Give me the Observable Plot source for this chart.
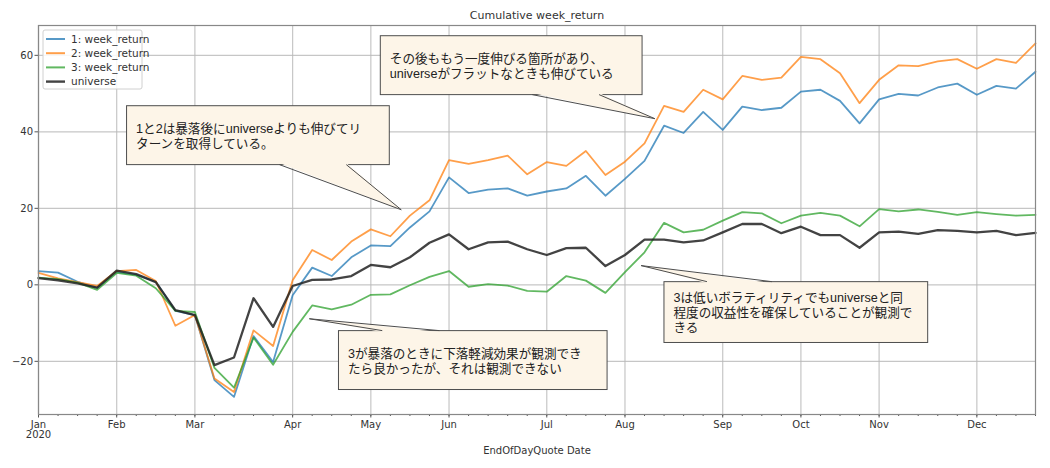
<!DOCTYPE html>
<html><head><meta charset="utf-8">
<script src="https://cdn.jsdelivr.net/npm/d3@7"></script>
<script src="https://cdn.jsdelivr.net/npm/@observablehq/plot@0.6"></script>
<style>html,body{margin:0;padding:0;background:#fff;} #chart svg{display:block;}</style>
</head><body><div id="chart"></div>
<script>
// ---- data ----
const titleText = "Cumulative week_return";
const xLabelText = "EndOfDayQuote Date";
const seriesNames = ["1: week_return", "2: week_return", "3: week_return", "universe"];
const seriesColors = ["#1f77b4", "#ff7f0e", "#2ca02c", "#222222"];
const weekIndex = d3.range(52);
const s1 = [3.6,3.2,0.8,-0.8,3.4,2.6,0.8,-6.8,-7.9,-24.9,-29.3,-13.4,-20.2,-2.7,4.5,2.3,7.2,10.3,10.1,15.0,19.2,28.1,24.0,24.9,25.2,23.3,24.4,25.2,28.5,23.3,27.7,32.4,41.6,39.7,45.2,40.5,46.6,45.7,46.3,50.5,51.0,48.1,42.2,48.5,49.9,49.5,51.6,52.6,49.7,52.0,51.3,55.7];
const s2 = [3.1,1.7,0.7,-0.3,3.6,3.9,1.0,-10.7,-7.9,-24.5,-28.0,-11.9,-16.0,1.2,9.1,6.5,11.3,14.5,12.7,18.1,22.1,32.6,31.6,32.6,33.8,28.9,32.1,31.1,35.0,28.7,32.2,37.0,46.8,45.2,51.0,48.5,54.6,53.6,54.2,59.6,59.0,55.3,47.5,53.6,57.4,57.2,58.4,59.0,56.5,59.0,58.0,63.1];
const s3 = [1.9,1.5,0.6,-1.3,3.1,2.4,-0.9,-6.8,-7.1,-21.7,-26.9,-13.8,-20.9,-12.3,-5.4,-6.4,-5.2,-2.6,-2.5,-0.1,2.1,3.6,-0.5,0.2,-0.2,-1.6,-1.8,2.3,1.1,-2.1,3.3,8.5,16.2,13.7,14.4,16.8,19.0,18.7,16.1,18.1,18.8,18.1,15.3,19.8,19.2,19.7,19.1,18.3,19.0,18.5,18.1,18.3];
const universe = [1.75,1.2,0.4,-0.7,3.7,2.8,0.7,-6.6,-7.9,-21.0,-19.0,-3.5,-11.0,-0.3,1.3,1.4,2.3,5.2,4.6,7.2,11.0,13.2,9.3,11.1,11.3,9.3,7.8,9.6,9.7,4.9,7.8,11.8,11.8,11.1,11.6,13.7,15.9,15.9,13.5,15.2,13.0,13.0,9.7,13.7,13.9,13.3,14.3,14.1,13.7,14.1,13.0,13.6];
const monthWeeks = [0,4,8,13,17,21,26,30,35,39,43,48];
const monthLabels = ["Jan\n2020","Feb","Mar","Apr","May","Jun","Jul","Aug","Sep","Oct","Nov","Dec"];
const yTicks = [-20,0,20,40,60];
const noteTexts = [
  "1と2は暴落後にuniverseよりも伸びてリ\nターンを取得している。",
  "その後ももう一度伸びる箇所があり、\nuniverseがフラットなときも伸びている",
  "3が暴落のときに下落軽減効果が観測でき\nたら良かったが、それは観測できない",
  "3は低いボラティリティでもuniverseと同\n程度の収益性を確保していることが観測で\nきる"
];

// ---- layout for annotations (data units) ----
const notePlacement = [
  {x1: 4.53, x2: 17.97, yTop: 46.7, yBottom: 31.3, tip: [18.58, 19.5], base: [12.35, 15.77], edge: "bottom"},
  {x1: 17.51, x2: 30.9, yTop: 65.0, yBottom: 49.6, tip: [31.56, 43.3], base: [25.28, 28.7], edge: "bottom"},
  {x1: 15.37, x2: 29.11, yTop: -12.1, yBottom: -27.5, tip: [13.88, -9.0], base: [17.61, 20.53], edge: "top"},
  {x1: 32.02, x2: 45.51, yTop: 0.7, yBottom: -15.2, tip: [30.85, 4.9], base: [34.22, 37.54], edge: "top"}
];
const notes = noteTexts.map((t, i) => ({text: t, ...notePlacement[i]}));

const allSeries = [s1, s2, s3, universe];
const rows = allSeries.flatMap((vals, k) => vals.map((v, i) => ({week: weekIndex[i], value: v, series: seriesNames[k]})));

const boxFill = "#fdf5e8";
const boxStroke = "#4d4d4d";

function annotationLayer(index, scales) {
  const {x, y} = scales;
  const g = d3.create("svg:g");
  for (const a of notes) {
    const X1 = x(a.x1), X2 = x(a.x2), Y1 = y(a.yTop), Y2 = y(a.yBottom);
    g.append("rect").attr("x", X1).attr("y", Y1).attr("width", X2 - X1).attr("height", Y2 - Y1)
      .attr("fill", boxFill).attr("stroke", boxStroke).attr("stroke-width", 1);
    const edgeY = a.edge === "bottom" ? Y2 : Y1;
    const inset = a.edge === "bottom" ? -1.5 : 1.5;
    const b1 = x(a.base[0]), b2 = x(a.base[1]);
    const tx = x(a.tip[0]), ty = y(a.tip[1]);
    g.append("path").attr("d", `M${b1},${edgeY + inset}L${tx},${ty}L${b2},${edgeY + inset}Z`).attr("fill", boxFill);
    g.append("path").attr("d", `M${b1},${edgeY}L${tx},${ty}L${b2},${edgeY}`)
      .attr("fill", "none").attr("stroke", boxStroke).attr("stroke-width", 1);
  }
  return g.node();
}

function legendLayer(index, scales, values, dimensions) {
  const {marginLeft, marginTop} = dimensions;
  const g = d3.create("svg:g").attr("transform", `translate(${marginLeft + 5},${marginTop + 5})`);
  g.append("rect").attr("width", 99).attr("height", 59).attr("rx", 2)
    .attr("fill", "white").attr("fill-opacity", 0.85).attr("stroke", "#d0d0d0");
  seriesNames.forEach((name, i) => {
    const yy = 9 + i * 14.2;
    g.append("line").attr("x1", 3).attr("x2", 22).attr("y1", yy).attr("y2", yy)
      .attr("stroke", seriesColors[i]).attr("stroke-width", i === 3 ? 2.4 : 2)
      .attr("stroke-opacity", i === 3 ? 0.85 : 0.75);
    g.append("text").attr("x", 28).attr("y", yy).attr("dy", "0.35em")
      .attr("text-anchor", "start").attr("font-family", "DejaVu Sans, sans-serif")
      .attr("font-size", 10.5).attr("fill", "#333").attr("stroke", "none").text(name);
  });
  return g.node();
}

const chart = Plot.plot({
  width: 1050,
  height: 468,
  marginLeft: 38,
  marginRight: 15,
  marginTop: 25,
  marginBottom: 54,
  style: {fontFamily: "DejaVu Sans, sans-serif", fontSize: "10px", background: "white", color: "#333"},
  x: {type: "linear", domain: [0, 51]},
  y: {domain: [-33.9, 67.8]},
  marks: [
    Plot.gridX(monthWeeks, {stroke: "#b8b8b8", strokeOpacity: 0.8, strokeWidth: 1.2}),
    Plot.gridY(yTicks, {stroke: "#b8b8b8", strokeOpacity: 0.8, strokeWidth: 1.2}),
    Plot.axisX(weekIndex, {tickSize: 2, tickFormat: () => "", stroke: "#555", label: null}),
    Plot.axisX(monthWeeks, {tickSize: 3.5, tickPadding: 3, stroke: "#555", fill: "#333", fontSize: 10,
      tickFormat: d => monthLabels[monthWeeks.indexOf(d)], label: null}),
    Plot.axisY(yTicks, {tickSize: 3.5, tickPadding: 2, stroke: "#555", fill: "#333", fontSize: 10, label: null}),
    Plot.line(rows, {x: "week", y: "value", z: "series",
      stroke: d => seriesColors[seriesNames.indexOf(d.series)],
      strokeWidth: d => d.series === "universe" ? 2.3 : 1.8,
      strokeOpacity: d => d.series === "universe" ? 0.85 : 0.75}),
    Plot.frame({stroke: "#888", strokeWidth: 1.2}),
    annotationLayer,
    Plot.text(notes, {x: "x1", y: d => (d.yTop + d.yBottom) / 2, text: "text", textAnchor: "start", lineAnchor: "middle",
      dx: 9, fontSize: 12.6, lineHeight: 1.18, fill: "#222", fontFamily: "Liberation Sans, Noto Sans CJK JP, sans-serif"}),
    legendLayer,
    Plot.text([titleText], {frameAnchor: "top", dy: -10, lineAnchor: "middle", fontSize: 11, fill: "#333", text: d => d}),
    Plot.text([xLabelText], {frameAnchor: "bottom", dy: 36, lineAnchor: "middle", fontSize: 10, fill: "#333", text: d => d})
  ]
});
document.getElementById("chart").appendChild(chart);
</script>
</body></html>
